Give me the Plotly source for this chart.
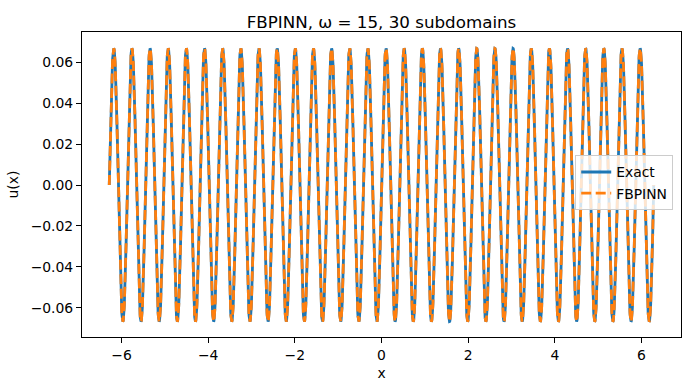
import numpy as np
import plotly.graph_objects as go

# Problem parameters (read from the title / axes)
OMEGA = 15
N_SUBDOMAINS = 30
X_MIN, X_MAX = -2 * np.pi, 2 * np.pi
N_POINTS = 3000

x = np.linspace(X_MIN, X_MAX, N_POINTS)
u_exact = np.sin(OMEGA * x) / OMEGA
u_fbpinn = np.sin(OMEGA * x) / OMEGA

x_ticks = [-6, -4, -2, 0, 2, 4, 6]
y_ticks = [-0.06, -0.04, -0.02, 0.00, 0.02, 0.04, 0.06]

font = "DejaVu Sans"

fig = go.Figure()
fig.add_trace(go.Scatter(x=x, y=u_exact, mode="lines", name="Exact",
                         line=dict(color="#1f77b4", width=2.8)))
fig.add_trace(go.Scatter(x=x, y=u_fbpinn, mode="lines", name="FBPINN",
                         line=dict(color="#ff7f0e", width=2.8, dash="10px,4.5px")))

axis_common = dict(showgrid=False, zeroline=False, showline=True, mirror=True,
                   linecolor="black", linewidth=1, ticks="outside", ticklen=5,
                   tickcolor="black", tickwidth=1, automargin=False,
                   tickfont=dict(family=font, size=13.9, color="black"))

fig.update_layout(
    width=690, height=390,
    margin=dict(l=82, r=9, t=32, b=53),
    paper_bgcolor="white", plot_bgcolor="white",
    title=dict(text=f"FBPINN, ω = {OMEGA}, {N_SUBDOMAINS} subdomains",
               x=0.5, xref="paper", xanchor="center", yref="container",
               y=1 - 22 / 390, yanchor="middle", automargin=False,
               font=dict(family=font, size=16.7, color="black")),
    xaxis=dict(range=[-6.912, 6.912], tickvals=x_ticks,
               title=dict(text="x", font=dict(family=font, size=13.9, color="black"), standoff=6),
               **axis_common),
    yaxis=dict(range=[-0.0742, 0.0747], tickvals=y_ticks, tickformat=".2f",
               title=dict(text="u(x)", font=dict(family=font, size=13.9, color="black"), standoff=8),
               **axis_common),
    legend=dict(x=0.987, xanchor="right", y=0.505, yanchor="middle",
                bgcolor="rgba(255,255,255,0.8)", bordercolor="#cccccc", borderwidth=1,
                font=dict(family=font, size=13.9, color="black"),
                tracegroupgap=0, itemwidth=30),
    showlegend=True,
)

fig.write_html("out.html", config={"displayModeBar": False},
               post_script="document.body.style.margin='0';document.body.style.overflow='hidden';")
